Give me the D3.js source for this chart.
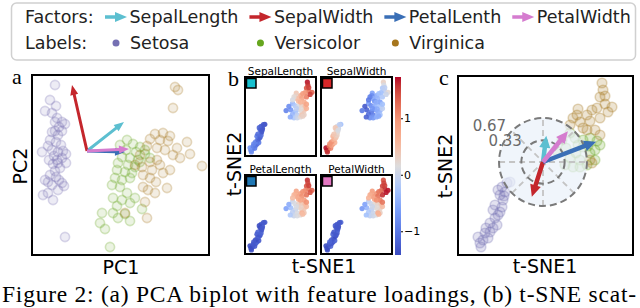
<!DOCTYPE html>
<html>
<head>
<meta charset="utf-8">
<script src="https://cdn.jsdelivr.net/npm/d3@7"></script>
<style>
  body { margin: 0; background: #fff; }
  svg { display: block; }
</style>
</head>
<body>
<div id="canvas"></div>
<script>
"use strict"

/* ---- data ---- */
let factors = ["SepalLength", "SepalWidth", "PetalLenth", "PetalWidth"];
let featureTitles = ["SepalLength", "SepalWidth", "PetalLength", "PetalWidth"];
let labels = ["Setosa", "Versicolor", "Virginica"];

// PCA scores (PC1, PC2)
let pcaSetosa = [
  [-1.28,1.32],[-1.48,1.02],[-1.24,0.90],[-1.68,0.80],[-1.40,0.76],[-1.20,0.66],[-1.00,0.58],[-0.88,0.54],[-1.28,0.58],[-1.12,0.48],
  [-1.40,0.38],[-1.28,0.40],[-1.16,0.32],[-1.00,0.40],[-1.48,0.22],[-1.24,0.18],[-1.04,0.12],[-1.56,0.10],[-1.80,-0.02],[-1.40,0.02],
  [-1.16,-0.02],[-0.96,0.00],[-0.84,-0.06],[-1.32,-0.10],[-1.52,-0.18],[-1.20,-0.18],[-1.00,-0.14],[-0.84,-0.24],[-1.36,-0.26],[-1.16,-0.24],
  [-1.08,-0.34],[-1.28,-0.40],[-1.48,-0.48],[-1.24,-0.52],[-1.12,-0.58],[-1.00,-0.64],[-0.92,-0.70],[-1.68,-0.58],[-1.56,-0.62],[-1.40,-0.68],
  [-1.76,-0.88],[-1.56,-0.84],[-1.36,-0.98],[-1.16,-0.78],[-0.88,-1.72]
];
let pcaVersicolor = [
  [1.60,0.22],[1.84,0.14],[2.12,0.08],[1.56,0.02],[1.96,-0.02],[2.32,-0.06],[1.40,-0.12],[1.72,-0.14],[2.04,-0.18],[1.24,-0.24],
  [1.64,-0.28],[1.92,-0.32],[2.12,-0.22],[1.20,-0.38],[1.52,-0.42],[1.80,-0.44],[1.12,-0.54],[1.40,-0.58],[1.72,-0.54],[1.00,-0.68],
  [1.32,-0.72],[1.60,-0.84],[1.04,-0.94],[1.40,-0.98],[1.72,-1.04],[1.20,-1.10],[1.92,-0.94],[0.60,-1.24],[1.04,-1.24],[1.52,-1.26],
  [1.24,-1.34],[1.72,-1.40],[2.20,-1.16],[0.52,-1.44],[0.72,-1.56],[0.92,-1.92],[2.32,0.02],[1.32,0.12],[2.52,-0.14]
];
let pcaVirginica = [
  [3.52,1.28],[3.64,1.22],[3.44,0.86],[2.72,0.34],[3.04,0.36],[3.32,0.30],[2.92,0.22],[3.24,0.20],[2.52,0.24],[2.40,0.10],
  [2.80,0.06],[3.12,0.02],[3.60,0.06],[4.00,0.18],[4.12,-0.06],[3.44,-0.08],[3.72,-0.14],[4.60,-0.30],[1.92,-0.28],[2.20,-0.32],
  [2.52,-0.22],[2.80,-0.18],[2.24,-0.48],[2.52,-0.54],[3.04,-0.44],[2.76,-0.62],[3.20,-0.74],[2.24,-0.72],[2.44,-0.78],[2.72,-0.84],
  [2.32,-1.02],[2.40,-1.34],[1.52,-1.24],[2.92,-0.28],[3.32,-0.38],[2.12,-0.08],[2.60,-0.38]
];
// PCA loadings, same order as factors
let pcaLoadings = [[1.48,0.58],[-0.60,1.32],[1.52,-0.02],[1.68,0.04]];

// t-SNE embedding (t-SNE1, t-SNE2)
let tsneSetosa = [
  [-15.75,-20.25],[-15.0,-19.5],[-13.75,-19.0],[-16.25,-18.75],[-14.5,-17.75],[-13.25,-17.5],[-12.5,-16.5],[-11.5,-15.75],[-13.25,-15.25],[-12.0,-14.0],
  [-11.25,-13.25],[-12.5,-12.0],[-10.75,-12.5],[-10.25,-11.25],[-10.0,-9.5],[-10.75,-8.25],[-9.5,-7.5],[-10.25,-6.25],[-8.25,-5.0],[-9.0,-5.25],
  [-11.25,-7.0],[-14.25,-16.5],[-12.0,-10.75],[-15.5,-21.25],[-9.75,-8.5]
];
let tsneVersicolor = [
  [6.75,7.25],[8.0,6.0],[10.0,5.5],[11.75,6.0],[13.5,5.25],[10.0,3.75],[8.25,2.25],[11.75,2.25],[13.0,3.0],[5.75,3.5],
  [6.75,1.0],[9.25,0.5],[7.5,-1.25],[9.25,-1.25],[11.0,-0.75],[13.0,0.5],[4.75,5.5],[3.25,3.0],[5.5,-0.75],[14.25,4.25],
  [11.25,4.0],[8.75,4.25]
];
let tsneVirginica = [
  [14.75,19.75],[15.0,18.0],[14.25,16.25],[15.5,14.5],[17.25,13.75],[13.5,13.5],[11.0,11.75],[8.75,13.25],[8.5,11.75],[9.25,10.0],
  [11.75,10.25],[14.25,11.0],[13.0,8.0],[10.0,8.5],[14.25,6.75],[7.5,11.0],[11.0,8.0],[16.25,12.5],[12.25,13.0],[11.75,0.5],
  [12.25,-0.25],[6.75,9.25],[15.5,16.5]
];

// standardized feature values per t-SNE point (setosa, versicolor, virginica order)
let sepalLengthZ = [
  -0.9,-0.8,-1.0,-0.7,-0.9,-1.0,-1.1,-1.0,-0.9,-1.1,-1.2,-1.0,-1.2,-1.1,-1.3,-1.2,-1.4,-1.3,-1.4,-1.3,-1.2,-0.9,-1.1,-0.8,-1.3,
  -0.4,-0.2,0.1,0.3,0.5,0.0,-0.3,0.2,0.4,-0.7,-0.4,-0.1,-0.2,0.0,0.2,0.3,-0.8,-0.9,-0.5,0.6,0.2,-0.1,
  1.7,1.6,1.4,1.2,1.3,1.0,0.7,0.4,0.3,0.5,0.8,1.1,0.7,0.5,0.8,0.2,0.6,1.5,0.9,0.4,0.3,0.1,1.5
];
let sepalWidthZ = [
  1.5,1.3,1.1,1.7,1.2,0.9,0.8,0.6,1.0,0.7,0.5,0.6,0.4,0.3,0.2,0.3,0.0,0.1,-0.3,-0.1,0.4,1.0,0.4,1.6,0.1,
  -0.6,-0.8,-0.5,-0.3,-0.2,-0.7,-1.0,-0.6,-0.4,-1.2,-1.1,-0.9,-0.8,-0.7,-0.5,-0.3,-1.3,-1.0,-1.2,-0.1,-0.5,-0.7,
  0.3,0.1,-0.2,-0.1,0.2,-0.3,-0.5,-0.6,-0.8,-0.5,-0.4,-0.2,-0.6,-0.7,-0.3,-0.9,-0.5,0.0,-0.3,-0.4,-0.5,-1.0,-0.1
];
let petalLengthZ = [
  -1.3,-1.4,-1.3,-1.4,-1.3,-1.3,-1.2,-1.3,-1.4,-1.3,-1.2,-1.3,-1.3,-1.2,-1.3,-1.4,-1.3,-1.2,-1.3,-1.3,-1.4,-1.3,-1.2,-1.4,-1.3,
  0.0,0.1,0.3,0.4,0.5,0.2,0.0,0.3,0.4,-0.3,-0.1,0.1,0.0,0.1,0.2,0.4,-0.5,-0.6,-0.2,0.5,0.3,0.1,
  1.6,1.5,1.4,1.2,1.3,1.1,0.9,0.8,0.7,0.8,1.0,1.2,0.9,0.7,1.0,0.6,0.8,1.4,1.0,0.6,0.5,0.5,1.5
];
let petalWidthZ = [
  -1.3,-1.3,-1.2,-1.4,-1.3,-1.3,-1.3,-1.2,-1.3,-1.3,-1.4,-1.2,-1.3,-1.3,-1.2,-1.3,-1.4,-1.3,-1.2,-1.3,-1.3,-1.2,-1.3,-1.4,-1.3,
  -0.1,0.0,0.2,0.3,0.4,0.1,-0.1,0.2,0.3,-0.4,-0.2,0.0,-0.1,0.0,0.1,0.3,-0.6,-0.7,-0.3,0.5,0.2,0.0,
  1.4,1.5,1.5,1.6,1.7,1.3,1.0,0.9,0.8,0.9,1.2,1.6,1.1,0.8,1.2,0.7,1.0,1.7,1.2,0.7,0.6,0.6,1.5
];
// t-SNE biplot loadings, same order as factors
let tsneLoadings = [[0.05,0.40],[-0.17,-0.53],[0.81,0.31],[0.38,0.47]];
let loadingRings = [0.33, 0.67];
let colorbarTicks = [-1, 0, 1];
let colorbarRange = [-1.42, 1.73];

/* ---- styles ---- */
let factorColors = ["#5cbfd0", "#c4262c", "#3a6fb6", "#d57ccf"];
let squareColors = ["#17c0cf", "#d62728", "#1f77b4", "#e377c2"];
let labelColors = ["#7570b3", "#66a61e", "#a6761d"];
let sans = "DejaVu Sans";
let serif = "'Liberation Serif', 'Times New Roman', Times, serif";

let drawing = d3.select("#canvas")
    .append("svg")
    .attr("width", 640)
    .attr("height", 308);

drawing.append("rect").attr("width", 640).attr("height", 308).attr("fill", "white");

function arrowPoints(x0, y0, x1, y1, w, hw, hl) {
    let dx = x1 - x0, dy = y1 - y0;
    let len = Math.hypot(dx, dy);
    let ux = dx / len, uy = dy / len;
    let nx = -uy, ny = ux;
    let h = Math.min(hl, len);
    let bx = x1 - ux * h, by = y1 - uy * h;
    let p = [
        [x0 + nx * w / 2, y0 + ny * w / 2],
        [bx + nx * w / 2, by + ny * w / 2],
        [bx + nx * hw / 2, by + ny * hw / 2],
        [x1, y1],
        [bx - nx * hw / 2, by - ny * hw / 2],
        [bx - nx * w / 2, by - ny * w / 2],
        [x0 - nx * w / 2, y0 - ny * w / 2]
    ];
    return p.map(d => d[0].toFixed(2) + "," + d[1].toFixed(2)).join(" ");
}

/* ---- legend ---- */
let legend = drawing.append("g");
legend.append("rect")
    .attr("x", 11.5).attr("y", 3)
    .attr("width", 624).attr("height", 57)
    .attr("rx", 5)
    .attr("fill", "white")
    .attr("stroke", "#d0d0d0")
    .attr("stroke-width", 1.5);

let row1 = 23, row2 = 49;
legend.append("text").attr("x", 25).attr("y", row1)
    .attr("font-family", sans).attr("font-size", 17.5).attr("fill", "#222")
    .text("Factors:");
legend.append("text").attr("x", 25).attr("y", row2)
    .attr("font-family", sans).attr("font-size", 17.5).attr("fill", "#222")
    .text("Labels:");

let colX = 105;
factors.forEach(function (f, i) {
    legend.append("polygon")
        .attr("points", arrowPoints(colX, 17, colX + 22, 17, 3.5, 10, 12))
        .attr("fill", factorColors[i]);
    let ft = legend.append("text").attr("x", colX + 24.5).attr("y", row1)
        .attr("font-family", sans).attr("font-size", 17.5).attr("fill", "#222")
        .text(f);
    let w = ft.node().getComputedTextLength();
    if (i < labels.length) {
        legend.append("circle")
            .attr("cx", colX + 11).attr("cy", 43).attr("r", 3.5)
            .attr("fill", labelColors[i]);
        let lt = legend.append("text").attr("x", colX + 25).attr("y", row2)
            .attr("font-family", sans).attr("font-size", 17.5).attr("fill", "#222")
            .text(labels[i]);
        w = Math.max(w, lt.node().getComputedTextLength());
    }
    colX = colX + 24.5 + w + 11;
});

/* ---- panel a: PCA biplot ---- */
let ax = d3.scaleLinear().domain([-2.2, 4.88]).range([32, 209]);
let ay = d3.scaleLinear().domain([-2.08, 1.52]).range([255, 75]);
let panelA = drawing.append("g");

[pcaSetosa, pcaVersicolor, pcaVirginica].forEach(function (pts, k) {
    panelA.append("g").selectAll("circle")
        .data(pts).join("circle")
        .attr("cx", d => ax(d[0]))
        .attr("cy", d => ay(d[1]))
        .attr("r", 4.6)
        .attr("fill", labelColors[k])
        .attr("fill-opacity", 0.13)
        .attr("stroke", labelColors[k])
        .attr("stroke-opacity", 0.27)
        .attr("stroke-width", 1.6);
});

pcaLoadings.forEach(function (d, i) {
    panelA.append("polygon")
        .attr("points", arrowPoints(ax(0), ay(0), ax(d[0]), ay(d[1]), 3, 8, 10))
        .attr("fill", factorColors[i]);
});

panelA.append("rect")
    .attr("x", 32).attr("y", 75).attr("width", 177).attr("height", 180)
    .attr("fill", "none").attr("stroke", "black").attr("stroke-width", 2);

panelA.append("text").attr("x", 12).attr("y", 84)
    .attr("font-family", serif).attr("font-size", 22).text("a");
panelA.append("text").attr("x", 121).attr("y", 274)
    .attr("text-anchor", "middle")
    .attr("font-family", sans).attr("font-size", 19).text("PC1");
panelA.append("text")
    .attr("transform", "translate(26.5,166) rotate(-90)")
    .attr("text-anchor", "middle")
    .attr("font-family", sans).attr("font-size", 19).text("PC2");

/* ---- panel b: t-SNE coloured by feature ---- */
let tsneAll = tsneSetosa.concat(tsneVersicolor, tsneVirginica);
let featureValues = [sepalLengthZ, sepalWidthZ, petalLengthZ, petalWidthZ];

let coolwarm = d3.piecewise(d3.interpolateLab,
    ["#3b4cc0", "#5977e3", "#7b9ff9", "#aac7fd", "#dddcdc", "#f7b89c", "#f49a7b", "#de604d", "#b40426"]);
let colorScale = d3.scaleSequential(coolwarm).domain(colorbarRange);

let subW = 71, subH = 79;
let subX = [245, 321], subY = [77, 175];
let panelB = drawing.append("g");

featureValues.forEach(function (vals, i) {
    let x0 = subX[i % 2], y0 = subY[Math.floor(i / 2)];
    let bx = d3.scaleLinear().domain([-18.95, 19.41]).range([x0, x0 + subW]);
    let by = d3.scaleLinear().domain([-23.59, 22.68]).range([y0 + subH, y0]);
    let g = panelB.append("g");
    g.selectAll("circle")
        .data(tsneAll.map((p, j) => ({ p: p, v: vals[j] })))
        .join("circle")
        .attr("cx", d => bx(d.p[0]))
        .attr("cy", d => by(d.p[1]))
        .attr("r", 2.6)
        .attr("fill", d => colorScale(d.v))
        .attr("fill-opacity", 0.9);
    g.append("rect")
        .attr("x", x0).attr("y", y0).attr("width", subW).attr("height", subH)
        .attr("fill", "none").attr("stroke", "black").attr("stroke-width", 2);
    g.append("rect")
        .attr("x", x0 + 1.5).attr("y", y0 + 1.5).attr("width", 9.5).attr("height", 9.5)
        .attr("fill", squareColors[i]).attr("stroke", "black").attr("stroke-width", 1.5);
    g.append("text")
        .attr("x", x0 + subW / 2).attr("y", y0 - 2)
        .attr("text-anchor", "middle")
        .attr("font-family", sans).attr("font-size", 10.5)
        .text(featureTitles[i]);
});

// colorbar
let cbY = d3.scaleLinear().domain(colorbarRange).range([255, 77]);
let grad = drawing.append("defs").append("linearGradient")
    .attr("id", "cbgrad").attr("x1", 0).attr("y1", 1).attr("x2", 0).attr("y2", 0);
d3.range(0, 1.0001, 0.05).forEach(function (t) {
    grad.append("stop")
        .attr("offset", t)
        .attr("stop-color", coolwarm(t));
});
panelB.append("rect")
    .attr("x", 395).attr("y", 77).attr("width", 6).attr("height", 178)
    .attr("fill", "url(#cbgrad)");
let cbAxis = d3.axisRight(cbY).tickValues(colorbarTicks).tickSize(2).tickFormat(d3.format("d"));
let cbG = panelB.append("g")
    .attr("transform", "translate(401,0)")
    .call(cbAxis);
cbG.select(".domain").remove();
cbG.selectAll("text").attr("font-family", sans).attr("font-size", 11).attr("x", 3);

panelB.append("text").attr("x", 228).attr("y", 86)
    .attr("font-family", serif).attr("font-size", 22).text("b");
panelB.append("text").attr("x", 324).attr("y", 273)
    .attr("text-anchor", "middle")
    .attr("font-family", sans).attr("font-size", 19).text("t-SNE1");
panelB.append("text")
    .attr("transform", "translate(241,164) rotate(-90)")
    .attr("text-anchor", "middle")
    .attr("font-family", sans).attr("font-size", 19).text("t-SNE2");

/* ---- panel c: t-SNE biplot ---- */
let cx = d3.scaleLinear().domain([-21.25, 22.5]).range([458, 633]);
let cy = d3.scaleLinear().domain([-23.25, 21.5]).range([255, 76]);
let ringScale = 16.4;   // t-SNE units per unit of loading
let panelC = drawing.append("g");

[tsneSetosa, tsneVersicolor, tsneVirginica].forEach(function (pts, k) {
    panelC.append("g").selectAll("circle")
        .data(pts).join("circle")
        .attr("cx", d => cx(d[0]))
        .attr("cy", d => cy(d[1]))
        .attr("r", 4.8)
        .attr("fill", labelColors[k])
        .attr("fill-opacity", 0.2)
        .attr("stroke", labelColors[k])
        .attr("stroke-opacity", 0.3)
        .attr("stroke-width", 1.6);
});

let outerR = cx(d3.max(loadingRings) * ringScale) - cx(0);
panelC.append("circle")
    .attr("cx", cx(0)).attr("cy", cy(0)).attr("r", outerR)
    .attr("fill", "#e9f1f9").attr("fill-opacity", 0.7);

[0, 45, 90, 135].forEach(function (a) {
    let r = d3.max(loadingRings) * ringScale;
    let t = a * Math.PI / 180;
    panelC.append("line")
        .attr("x1", cx(-r * Math.cos(t))).attr("y1", cy(-r * Math.sin(t)))
        .attr("x2", cx(r * Math.cos(t))).attr("y2", cy(r * Math.sin(t)))
        .attr("stroke", "#c4c4c4").attr("stroke-width", 1.8)
        .attr("stroke-dasharray", "6,4");
});

loadingRings.forEach(function (v) {
    let r = cx(v * ringScale) - cx(0);
    panelC.append("circle")
        .attr("cx", cx(0)).attr("cy", cy(0)).attr("r", r)
        .attr("fill", "none")
        .attr("stroke", "#7a7a7a").attr("stroke-width", 2)
        .attr("stroke-dasharray", "7,4");
});

panelC.append("text").attr("x", cx(0) - outerR * 0.84).attr("y", cy(0) - outerR * 0.7)
    .attr("text-anchor", "end")
    .attr("font-family", sans).attr("font-size", 15).attr("fill", "#6a6a6a")
    .text(loadingRings[1].toFixed(2));
panelC.append("text").attr("x", cx(0) - outerR * 0.48).attr("y", cy(0) - outerR * 0.36)
    .attr("text-anchor", "end")
    .attr("font-family", sans).attr("font-size", 15).attr("fill", "#6a6a6a")
    .text(loadingRings[0].toFixed(2));

tsneLoadings.forEach(function (d, i) {
    panelC.append("polygon")
        .attr("points", arrowPoints(cx(0), cy(0), cx(d[0] * ringScale), cy(d[1] * ringScale), 4.5, 11, 12))
        .attr("fill", factorColors[i]);
});

panelC.append("rect")
    .attr("x", 458).attr("y", 76).attr("width", 175).attr("height", 179)
    .attr("fill", "none").attr("stroke", "black").attr("stroke-width", 2);

panelC.append("text").attr("x", 439).attr("y", 85)
    .attr("font-family", serif).attr("font-size", 22).text("c");
panelC.append("text").attr("x", 545).attr("y", 273)
    .attr("text-anchor", "middle")
    .attr("font-family", sans).attr("font-size", 19).text("t-SNE1");
panelC.append("text")
    .attr("transform", "translate(452,166) rotate(-90)")
    .attr("text-anchor", "middle")
    .attr("font-family", sans).attr("font-size", 19).text("t-SNE2");

/* ---- caption ---- */
drawing.append("text")
    .attr("x", 2).attr("y", 302)
    .attr("font-family", serif).attr("font-size", 23.5)
    .attr("textLength", 634).attr("lengthAdjust", "spacing")
    .text("Figure 2: (a) PCA biplot with feature loadings, (b) t-SNE scat-");
</script>
</body>
</html>
